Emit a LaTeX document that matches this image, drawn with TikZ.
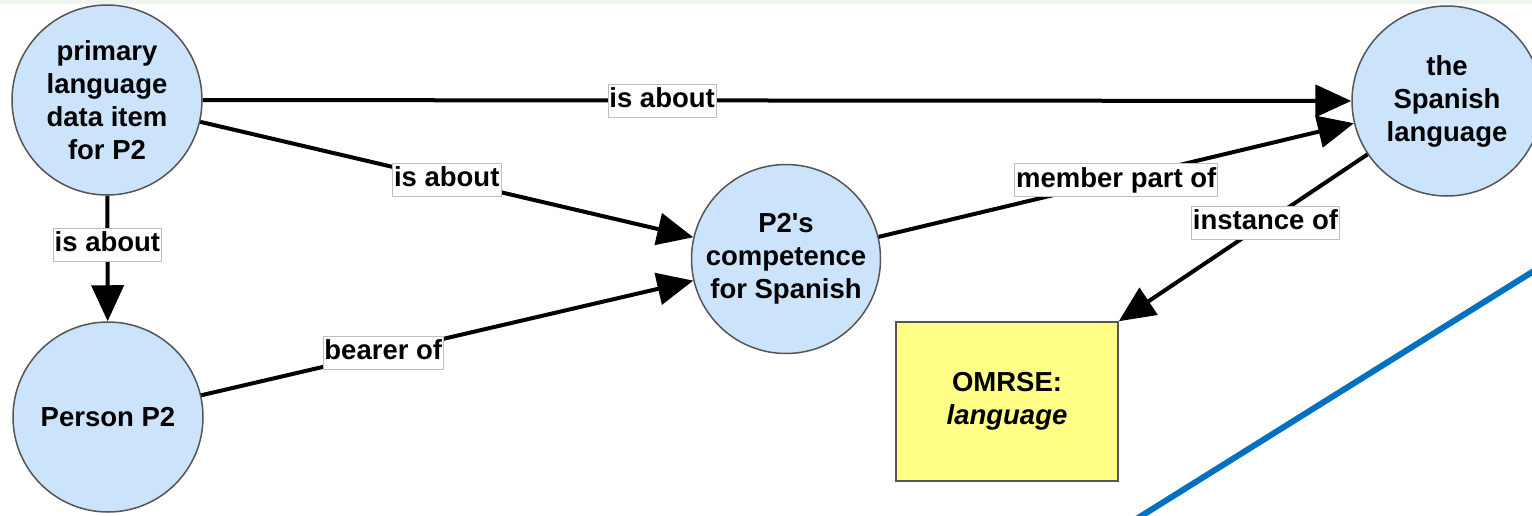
\documentclass[tikz,border=0pt]{standalone}
\usepackage{fontspec}
\setmainfont{Liberation Sans}[Ligatures=TeXOff]
\usetikzlibrary{arrows.meta}
\definecolor{nodeblue}{HTML}{CCE4FB}
\definecolor{noteyellow}{HTML}{FFFF88}
\definecolor{rim}{HTML}{555555}
\definecolor{band}{HTML}{EEF5EC}
\definecolor{slash}{HTML}{0070C0}
\begin{document}
\begin{tikzpicture}[x=1pt,y=-1pt,
  every node/.style={font=\fontsize{27.5}{33}\selectfont\bfseries},
  entity/.style={circle, draw=rim, line width=1.5pt, fill=nodeblue,
    minimum size=190pt, inner sep=0pt, align=center},
  classbox/.style={rectangle, draw=rim, line width=1.5pt, fill=noteyellow,
    minimum width=222pt, minimum height=159pt, align=center},
  rel/.style={line width=4pt, -{Triangle[length=36pt,width=32pt]}},
  tag/.style={fill=white, draw=black!25, line width=0.8pt,
    inner xsep=1.5pt, inner ysep=3.5pt, text height=20pt, text depth=6pt}]
  \useasboundingbox (0,0) rectangle (1532,515);
  \fill[white] (0,0) rectangle (1532,515);
  \fill[band] (0,0) rectangle (1532,4);

  % entities
  \node[entity] (data) at (107,100) {primary\\language\\data item\\for P2};
  \node[entity] (person) at (108,417) {Person P2};
  \node[entity, minimum size=189pt] (comp) at (786,259) {P2's\\competence\\for Spanish};
  \node[entity] (spanish) at (1447,101) {the\\Spanish\\language};
  \node[classbox] (omrse) at (1007,401.5) {OMRSE:\\\textit{language}};

  % relations
  \draw[rel] (data) -- node[tag, pos=0.4] {is about} (spanish);
  \draw[rel] (data) -- node[tag, pos=0.5] {is about} (comp);
  \draw[rel] (data) -- node[tag, pos=0.39] {is about} (person);
  \draw[rel] (person) -- node[tag, pos=0.37] {bearer of} (comp);
  \draw[rel] (comp) -- node[tag, pos=0.5] {member part of} (spanish);
  \draw[rel] (spanish) -- node[tag, pos=0.41] {instance of} (omrse.north east);

  % diagonal stroke across the lower right corner
  \coordinate (s1) at (1545,264);
  \coordinate (s2) at (1130,523);
  \draw[slash, line width=6pt] (s1) -- (s2);
\end{tikzpicture}
\end{document}
